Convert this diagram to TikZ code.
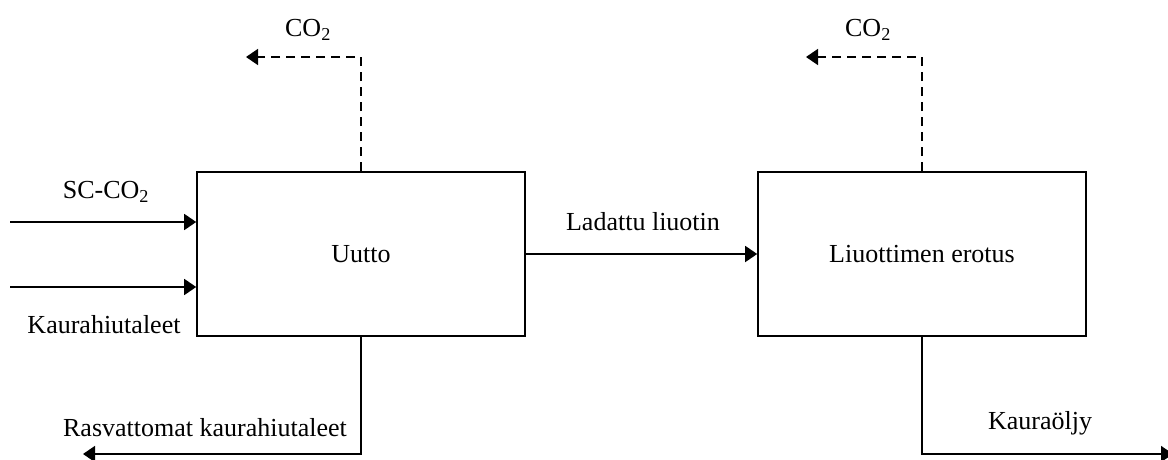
\documentclass[tikz,border=0pt]{standalone}
\usepackage{fontspec}
\setmainfont{Liberation Serif}
\usetikzlibrary{arrows.meta}
\begin{document}
\begin{tikzpicture}[x=1pt,y=-1pt,
  box/.style={draw,line width=1.6pt,minimum width=328pt,minimum height=164pt,inner sep=0pt,font=\fontsize{26}{30}\selectfont},
  lbl/.style={inner sep=0pt,font=\fontsize{26}{30}\selectfont},
  flow/.style={line width=1.6pt,-{Triangle[length=12pt,width=16pt]}},
  gas/.style={flow,dashed,dash pattern=on 9pt off 6pt}]
\useasboundingbox (0,0) rectangle (1168,460);
\node[box] (b1) at (361,254) {Uutto};
\node[box] (b2) at (922,254) {Liuottimen erotus};
\coordinate (in1) at (10,222);
\coordinate (in2) at (10,287);
\coordinate (g1) at (246,57);
\coordinate (g2) at (806,57);
\coordinate (o1) at (83,454);
\coordinate (o2) at (1173,454);
\draw[flow] (in1) -- (b1.west |- in1);
\draw[flow] (in2) -- (b1.west |- in2);
\draw[gas] (b1.north) |- (g1);
\draw[gas] (b2.north) |- (g2);
\draw[flow] (b1.south) |- (o1);
\draw[flow] (b2.south) |- (o2);
\draw[flow] (b1.east) -- (b2.west);
\node[lbl] (t1) at (106,192) {SC-CO\textsubscript{2}};
\node[lbl] (t2) at (104,325) {Kaurahiutaleet};
\node[lbl] (t3) at (308,30) {CO\textsubscript{2}};
\node[lbl] (t4) at (868,30) {CO\textsubscript{2}};
\node[lbl] (t5) at (643,222) {Ladattu liuotin};
\node[lbl] (t6) at (205,428) {Rasvattomat kaurahiutaleet};
\node[lbl] (t7) at (1040,423) {Kauraöljy};
\end{tikzpicture}
\end{document}
